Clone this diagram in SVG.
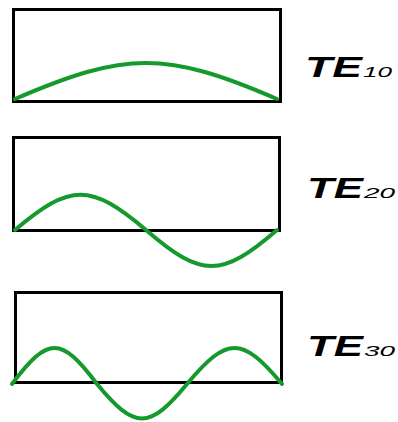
<svg xmlns="http://www.w3.org/2000/svg" width="398" height="422" viewBox="0 0 398 422">
<style>
.box{fill:none;stroke:#000;stroke-width:3}
.wave{fill:none;stroke:#149a2c;stroke-width:4;stroke-linecap:round}
.te{font-family:"Liberation Sans",Arial,sans-serif;font-weight:bold;font-style:italic;font-size:29px;fill:#000}
.sub{font-family:"Liberation Sans",Arial,sans-serif;font-style:italic;font-size:15px;fill:#000}
</style>
<rect width="398" height="422" fill="#fff"/>
<g id="te10">
<rect class="box" x="13.5" y="9.5" width="267" height="92"/>
<path class="wave" d="M15,99 C126,51 166,51 277,99"/>
<text class="te" x="305" y="77" textLength="57" lengthAdjust="spacingAndGlyphs">TE</text>
<text class="sub" x="363" y="77" textLength="29" lengthAdjust="spacingAndGlyphs">10</text>
</g>
<g id="te20">
<rect class="box" x="13.5" y="137.5" width="266" height="93"/>
<path class="wave" d="M15,230 C70.6,183 90.4,183 146,230 C201.6,278 221.4,278 277,230"/>
<text class="te" x="307" y="198" textLength="56" lengthAdjust="spacingAndGlyphs">TE</text>
<text class="sub" x="364" y="198" textLength="31" lengthAdjust="spacingAndGlyphs">20</text>
</g>
<g id="te30">
<rect class="box" x="15.5" y="292.5" width="266" height="90"/>
<path class="wave" d="M12,384 C48,336 61,336 97,384 C135,430 149,430 187,384 C227,336 242,336 282,384"/>
<text class="te" x="307" y="356" textLength="56" lengthAdjust="spacingAndGlyphs">TE</text>
<text class="sub" x="364" y="356" textLength="31" lengthAdjust="spacingAndGlyphs">30</text>
</g>
</svg>
